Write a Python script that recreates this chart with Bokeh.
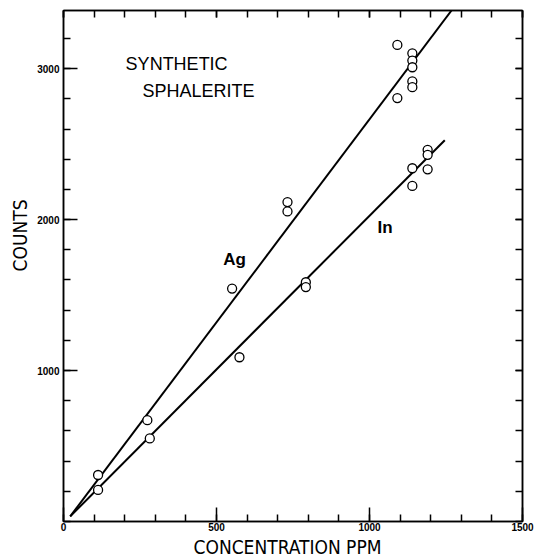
import math
from bokeh.plotting import figure
from bokeh.models import Range1d, LinearAxis, FixedTicker, Label, Title
from bokeh.embed import file_html
from bokeh.resources import INLINE

# ---- data ----
ag_conc = [113, 274, 551, 732, 732, 1091, 1091, 1140, 1140, 1140, 1140, 1140]
ag_counts = [308, 671, 1543, 2116, 2054, 3157, 2805, 3101, 3053, 3009, 2915, 2877]

in_conc = [113, 282, 575, 792, 792, 1140, 1140, 1190, 1190, 1190]
in_counts = [209, 550, 1088, 1585, 1553, 2340, 2223, 2462, 2429, 2333]

ag_fit_x = [22, 1268]
ag_fit_y = [34, 3385]
in_fit_x = [22, 1246]
in_fit_y = [34, 2526]

x_major = [0, 500, 1000, 1500]
x_minor = list(range(0, 1501, 100))
y_major = [1000, 2000, 3000]
y_minor = list(range(0, 3401, 200))

X_MAX = 1500
Y_MAX = 3385

FONT = "Liberation Sans"
NARROW = "DejaVu Sans Condensed"

p = figure(width=541, height=557, output_backend="svg", toolbar_location=None,
           x_range=Range1d(0, X_MAX), y_range=Range1d(0, Y_MAX),
           x_axis_location=None, y_axis_location=None,
           min_border_left=63, min_border_right=19, min_border_top=10, min_border_bottom=34)
p.xgrid.visible = False
p.ygrid.visible = False
p.outline_line_color = "black"
p.outline_line_width = 1.5
p.background_fill_color = "white"
p.border_fill_color = "white"


def style_axis(ax, ticks, minor, major_in, minor_in, show_labels):
    ax.ticker = FixedTicker(ticks=ticks, minor_ticks=minor)
    ax.axis_line_color = "black"
    ax.axis_line_width = 1.5
    ax.major_tick_in = major_in
    ax.major_tick_out = 0
    ax.minor_tick_in = minor_in
    ax.minor_tick_out = 0
    ax.major_tick_line_color = "black"
    ax.major_tick_line_width = 1.5
    ax.minor_tick_line_color = "black"
    ax.minor_tick_line_width = 1.5
    if show_labels:
        ax.major_label_text_font = FONT
        ax.major_label_text_font_style = "bold"
        ax.major_label_text_font_size = "10px"
        ax.major_label_text_color = "black"
    else:
        ax.major_label_text_font_size = "0px"
        ax.major_label_standoff = 0
        ax.major_label_overrides = {t: "" for t in ticks}


bottom = LinearAxis()
style_axis(bottom, x_major, x_minor, 14, 7, True)
bottom.major_label_standoff = 1
p.add_layout(bottom, "below")

left = LinearAxis()
style_axis(left, y_major, y_minor, 14, 7, True)
left.major_label_standoff = 4
p.add_layout(left, "left")

top = LinearAxis()
style_axis(top, x_major, x_minor, 7, 7, False)
p.add_layout(top, "above")

right = LinearAxis()
style_axis(right, y_major, y_minor, 7, 7, False)
p.add_layout(right, "right")

# axis titles (as side titles so they can be placed along the axis)
p.add_layout(Title(text="CONCENTRATION PPM", align="left", offset=130, standoff=0,
                   text_font=NARROW, text_font_size="19px", text_font_style="normal",
                   text_color="black"), "below")
p.add_layout(Title(text="COUNTS", align="left", offset=250, standoff=7,
                   text_font=NARROW, text_font_size="19px", text_font_style="normal",
                   text_color="black"), "left")

# fitted lines
p.line(ag_fit_x, ag_fit_y, line_color="black", line_width=2)
p.line(in_fit_x, in_fit_y, line_color="black", line_width=2)

# points
p.scatter(ag_conc, ag_counts, marker="circle", size=9, fill_color="white",
          line_color="black", line_width=1.3)
p.scatter(in_conc, in_counts, marker="circle", size=9, fill_color="white",
          line_color="black", line_width=1.3)

# annotations
p.add_layout(Label(x=203, y=3033, text="SYNTHETIC", text_font=FONT, text_font_size="18px",
                   text_color="black", text_align="left", text_baseline="middle"))
p.add_layout(Label(x=258, y=2855, text="SPHALERITE", text_font=FONT, text_font_size="18px",
                   text_color="black", text_align="left", text_baseline="middle"))
p.add_layout(Label(x=559, y=1737, text="Ag", text_font=FONT, text_font_size="17px",
                   text_font_style="bold", text_color="black",
                   text_align="center", text_baseline="middle"))
p.add_layout(Label(x=1051, y=1947, text="In", text_font=FONT, text_font_size="17px",
                   text_font_style="bold", text_color="black",
                   text_align="center", text_baseline="middle"))

open("out.html", "w").write(file_html(p, INLINE))
